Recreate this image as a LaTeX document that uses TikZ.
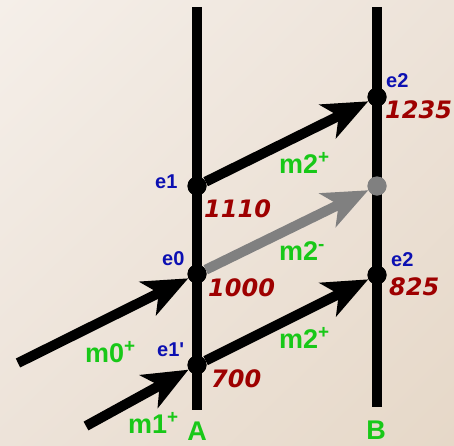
\documentclass[tikz,border=0pt]{standalone}
\usepackage{fontspec}
\setmainfont{Liberation Sans}
\newfontfamily\timefont{DejaVu Sans}
\usetikzlibrary{arrows.meta,shadings}
\definecolor{mgreen}{RGB}{24,200,24}
\definecolor{eblue}{RGB}{12,16,178}
\definecolor{tred}{RGB}{158,0,0}
\definecolor{bgA}{RGB}{245,239,233}
\definecolor{bgB}{RGB}{237,227,217}
\definecolor{bgC}{RGB}{230,216,200}
\begin{document}
\begin{tikzpicture}[x=1pt,y=-1pt,
        ev/.style={circle,fill,inner sep=0pt,minimum size=19pt},
        msg/.style={line width=10pt,
            -{Stealth[length=45pt,width=37pt,inset=12pt]}},
        ename/.style={anchor=base west,text=eblue,inner sep=0pt,
            font=\bfseries\fontsize{20}{20}\selectfont},
        tval/.style={anchor=base west,text=tred,inner sep=0pt,
            font=\timefont\bfseries\itshape\fontsize{24}{24}\selectfont},
        mname/.style={anchor=base west,text=mgreen,inner sep=0pt,
            font=\bfseries\fontsize{27}{27}\selectfont}]
    \shade[upper left=bgA,upper right=bgB,lower left=bgB,lower right=bgC]
        (0,0) rectangle (454,445);
    \useasboundingbox (0,0) rectangle (454,445);
    % process lines
    \coordinate (Atop) at (197,7);
    \coordinate (Abot) at (197,410);
    \coordinate (Btop) at (377,7);
    \coordinate (Bbot) at (377,407);
    \draw[line width=10pt] (Atop) -- (Abot);
    \draw[line width=10pt] (Btop) -- (Bbot);
    % events
    \node[ev] (e1) at (197,186) {};
    \node[ev] (e0) at (197,274) {};
    \node[ev] (e1p) at (197,365) {};
    \node[ev] (b2a) at (377,97) {};
    \node[ev,fill=gray] (b2g) at (377,186) {};
    \node[ev] (b2b) at (377,275) {};
    \coordinate (m0s) at (18,363);
    \coordinate (m1s) at (86,426);
    % messages
    \draw[msg] (m0s) -- (e0);
    \draw[msg] (m1s) -- (e1p);
    \draw[msg] (e1) -- (b2a);
    \draw[msg,gray] (e0) -- (b2g);
    \draw[msg] (e1p) -- (b2b);
    \foreach \n in {e1,e0,e1p,b2a,b2b}
    \node[ev] at (\n) {};
    \node[ev,fill=gray] at (b2g) {};
    % labels
    \foreach \t/\x/\y in {e1/155/188,e0/162/265,e1\textquotesingle/157/356,e2/386/87,e2/391/266}
    \node[ename] at (\x,\y) {\t};
    \foreach \t/\x/\y in {1110/204/217,1000/208/296,700/211/387,1235/385/118,825/389/295}
    \node[tval] at (\x,\y) {\t};
    \foreach \t/\s/\x/\y in {m2/+/279/173,m2/-/279/260,m2/+/279/348,m0/+/85/362,m1/+/128/433}
    \node[mname] at (\x,\y) {\t\textsuperscript{\s}};
    \node[mname,anchor=base] at (197,440) {A};
    \node[mname,anchor=base] at (376,439) {B};
\end{tikzpicture}
\end{document}
